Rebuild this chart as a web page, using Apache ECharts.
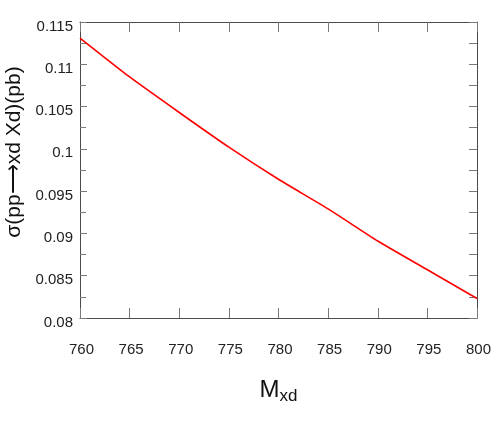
<!DOCTYPE html>
<html>
<head>
<meta charset="utf-8">
<script src="https://cdn.jsdelivr.net/npm/echarts@6/dist/echarts.min.js"></script>
<style>html,body{margin:0;padding:0;background:#fff}#c{width:498px;height:429px}</style>
</head>
<body>
<div id="c"></div>
<script>
const massValues = [760, 765, 770, 775, 780, 785, 790, 795, 800];
const sigmaValues = [0.1131, 0.1085, 0.1043, 0.1002, 0.0964, 0.0929, 0.0891, 0.0857, 0.0823];
const xTicks = [760, 765, 770, 775, 780, 785, 790, 795, 800];
const yTicks = [0.08, 0.085, 0.09, 0.095, 0.1, 0.105, 0.11, 0.115];

const sans = '"Liberation Sans", Arial, sans-serif';
const chart = echarts.init(document.getElementById('c'), null, {renderer: 'canvas'});
const lineCol = '#4a4a4a';
const tickCol = '#7a7a7a';
chart.setOption({
  animation: false,
  backgroundColor: '#fff',
  grid: {left: 80, right: 21, top: 22, bottom: 111, outerBoundsMode: 'none', containLabel: false},
  xAxis: [{
    type: 'value', min: xTicks[0], max: xTicks[xTicks.length - 1], interval: 5,
    position: 'bottom',
    axisLine: {show: true, lineStyle: {color: lineCol, width: 1}},
    axisTick: {show: true, inside: true, length: 10, lineStyle: {color: tickCol}},
    axisLabel: {margin: 24, fontFamily: sans, fontSize: 15, color: '#222', padding: [0, 0, 0, 3]},
    splitLine: {show: false},
    name: '{m|M}{s|xd}', nameLocation: 'middle', nameGap: 58,
    nameTextStyle: {
      rich: {
        m: {fontFamily: sans, fontSize: 24, color: '#111'},
        s: {fontFamily: sans, fontSize: 17, color: '#111', padding: [12, 0, 0, 0]}
      }
    }
  }, {
    type: 'value', min: xTicks[0], max: xTicks[xTicks.length - 1], interval: 5,
    position: 'top',
    axisLine: {show: true, lineStyle: {color: lineCol, width: 1}},
    axisTick: {show: true, inside: true, length: 10, lineStyle: {color: tickCol}},
    axisLabel: {show: false},
    splitLine: {show: false}
  }],
  yAxis: [{
    type: 'value', min: yTicks[0], max: yTicks[yTicks.length - 1], interval: 0.005,
    position: 'left',
    axisLine: {show: true, lineStyle: {color: lineCol, width: 1}},
    axisTick: {show: true, inside: true, length: 7, lineStyle: {color: tickCol}},
    minorTick: {show: true, splitNumber: 2, length: 6, lineStyle: {color: tickCol}},
    axisLabel: {margin: 7, fontFamily: sans, fontSize: 15, color: '#222',
      verticalAlign: 'top', lineHeight: 9,
      formatter: v => String(parseFloat(v.toFixed(4)))},
    splitLine: {show: false},
    name: 'σ(pp⟶xd Xd)(pb)', nameLocation: 'middle', nameGap: 50, nameRotate: 90,
    nameTextStyle: {fontFamily: sans, fontSize: 21, color: '#111', padding: [0, 0, 0, 36]}
  }, {
    type: 'value', min: yTicks[0], max: yTicks[yTicks.length - 1], interval: 0.005,
    position: 'right',
    axisLine: {show: true, lineStyle: {color: lineCol, width: 1}},
    axisTick: {show: true, inside: true, length: 8, lineStyle: {color: tickCol}},
    minorTick: {show: true, splitNumber: 2, length: 8, lineStyle: {color: tickCol}},
    axisLabel: {show: false},
    splitLine: {show: false}
  }],
  series: [{
    type: 'line',
    xAxisIndex: 0, yAxisIndex: 0,
    data: massValues.map((m, i) => [m, sigmaValues[i]]),
    showSymbol: false,
    smooth: 0.2,
    lineStyle: {color: '#ff0000', width: 1.6},
    itemStyle: {color: '#ff0000'}
  }]
});
</script>
</body>
</html>
